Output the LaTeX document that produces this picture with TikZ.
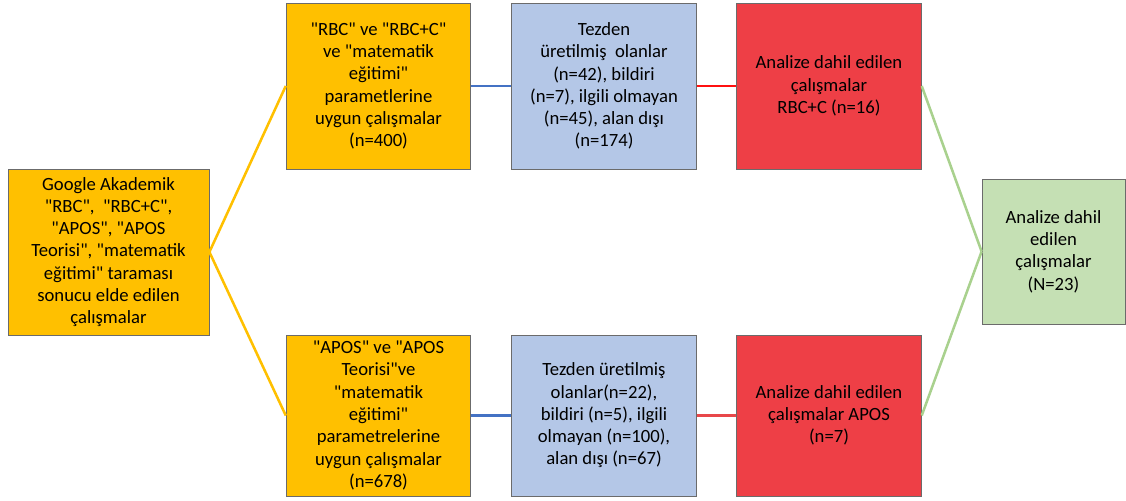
\documentclass[tikz,border=0pt]{standalone}
\usepackage{fontspec}
\setmainfont{Carlito}[Ligatures=TeXOff]

\definecolor{boxyellow}{HTML}{FFC000}
\definecolor{boxblue}{HTML}{B4C7E7}
\definecolor{boxred}{HTML}{EE3F46}
\definecolor{boxgreen}{HTML}{C5E0B4}
\definecolor{boxline}{HTML}{6B6B6B}
\definecolor{lineblue}{HTML}{4472C4}
\definecolor{linered}{HTML}{FF1010}
\definecolor{lineredb}{HTML}{E8474A}
\definecolor{linegreen}{HTML}{A9D18E}

\tikzset{every picture/.style={line width=0.75pt}}
\tikzset{
  stagebox/.style={draw=boxline, line width=0.6pt, rectangle, inner sep=0.75pt, align=center,
    font=\fontsize{14}{16.7}\selectfont},
  tallbox/.style={stagebox, minimum width=138.5pt, minimum height=124.5pt},
  lowbox/.style={stagebox, minimum width=138.5pt, minimum height=120.75pt},
  link/.style={line width=1.9pt}
}

\begin{document}
\begin{tikzpicture}[x=0.75pt,y=0.75pt,yscale=-1,xscale=1]
\useasboundingbox (0,0) rectangle (1126,500); %set diagram 1126 x 500

% Search node
\node [stagebox, fill=boxyellow, minimum width=150.75pt, minimum height=124.5pt] (search) at (108.5,252) {Google Akademik\\"RBC",\ \ "RBC+C",\\"APOS", "APOS\\Teorisi", "matematik\\eğitimi" taraması\\sonucu elde edilen\\çalışmalar};

% RBC row
\node [tallbox, fill=boxyellow] (rbcparam) at (378.5,86) {"RBC" ve "RBC+C"\\ve "matematik\\eğitimi"\\parametlerine\\uygun çalışmalar\\(n=400)};
\node [tallbox, fill=boxblue] (rbcout) at (604,86) {Tezden\\üretilmiş\ \ olanlar\\(n=42), bildiri\\(n=7), ilgili olmayan\\(n=45), alan dışı\\(n=174)};
\node [tallbox, fill=boxred] (rbcin) at (829,86) {Analize dahil edilen\\çalışmalar\\RBC+C (n=16)};

% APOS row
\node [lowbox, fill=boxyellow] (aposparam) at (378.5,415.5) {"APOS" ve "APOS\\Teorisi"ve\\"matematik\\eğitimi"\\parametrelerine\\uygun çalışmalar\\(n=678)};
\node [lowbox, fill=boxblue] (aposout) at (604,415.5) {Tezden üretilmiş\\olanlar(n=22),\\bildiri (n=5), ilgili\\olmayan (n=100),\\alan dışı (n=67)};
\node [lowbox, fill=boxred] (aposin) at (829,415.5) {Analize dahil edilen\\çalışmalar APOS\\(n=7)};

% Total node
\node [stagebox, fill=boxgreen, minimum width=107.25pt, minimum height=108.75pt] (total) at (1053.5,251.5) {Analize dahil\\edilen\\çalışmalar\\(N=23)};

% Connectors
\draw [link, boxyellow] (search.east) -- (rbcparam.west);
\draw [link, boxyellow] (search.east) -- (aposparam.west);
\draw [link, lineblue] (rbcparam.east) -- (rbcout.west);
\draw [link, lineblue] (aposparam.east) -- (aposout.west);
\draw [link, linered] (rbcout.east) -- (rbcin.west);
\draw [link, lineredb] (aposout.east) -- (aposin.west);
\draw [link, linegreen] (rbcin.east) -- (total.west);
\draw [link, linegreen] (aposin.east) -- (total.west);

\end{tikzpicture}
\end{document}
